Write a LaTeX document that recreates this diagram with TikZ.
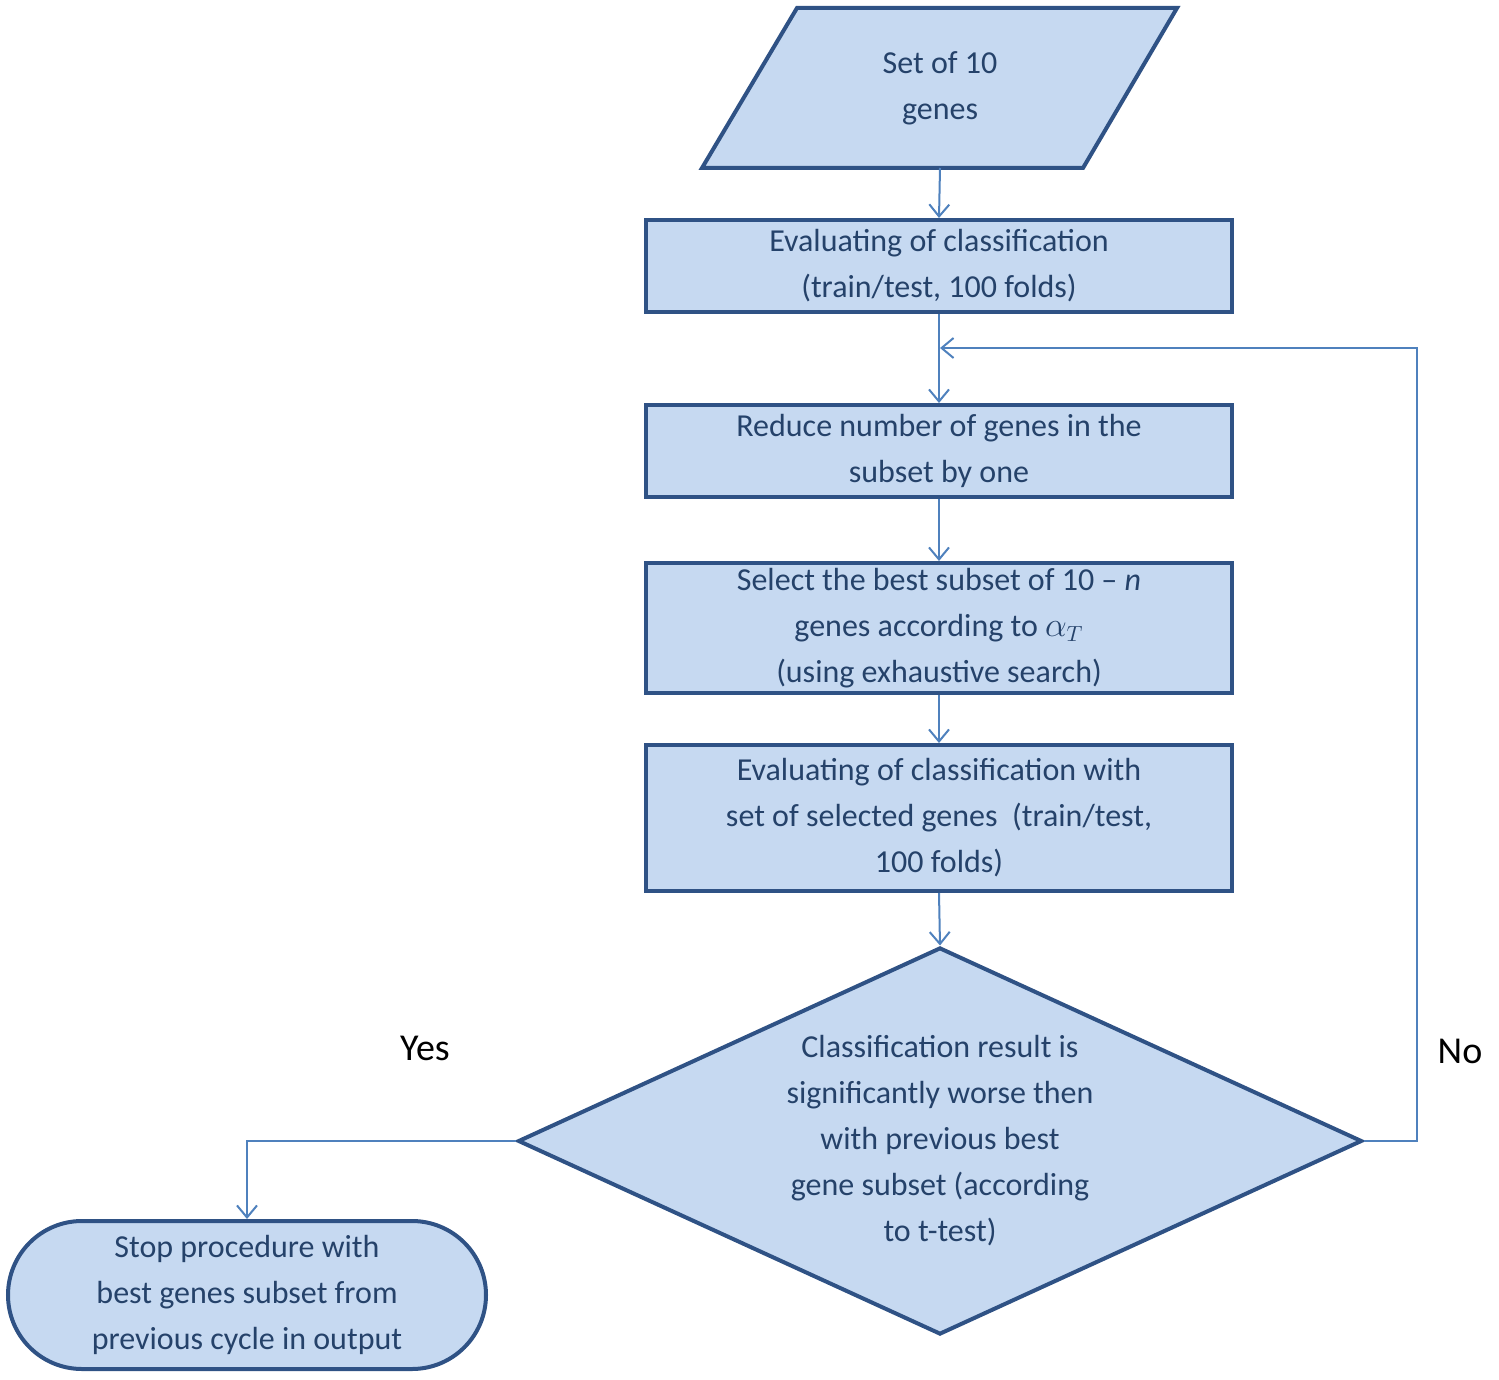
\documentclass[tikz,border=0pt]{standalone}
\usepackage{fontspec}
\setmainfont{Carlito}
\usetikzlibrary{shapes.geometric,arrows.meta}
\definecolor{fillc}{HTML}{C6D9F1}
\definecolor{edgec}{HTML}{2F5285}
\definecolor{linec}{HTML}{4F81BD}
\begin{document}
\begin{tikzpicture}[x=0.5pt,y=-0.5pt,
  box/.style={draw=edgec,line width=2pt,fill=fillc,minimum width=293pt,inner sep=0pt,align=center,text=edgec!80!black,font=\fontsize{16}{23}\selectfont},
  txt/.style={align=center,text=edgec!80!black,font=\fontsize{16}{23}\selectfont},
  conn/.style={draw=linec,line width=1pt,-{Straight Barb[length=6pt,width=10pt]}},
  lab/.style={font=\fontsize{19}{23}\selectfont}]
\useasboundingbox (0,0) rectangle (1499,1380);
% parallelogram
\draw[draw=edgec,line width=2pt,fill=fillc] (797,8) -- (1177,8) -- (1083,168) -- (702,168) -- cycle;
\node[txt] (start) at (940,88) {Set of 10\\genes};
\coordinate (startb) at (940,168);
\node[box,minimum height=46pt] (b1) at (939,266) {Evaluating of classification\\(train/test, 100 folds)};
\node[box,minimum height=46pt] (b2) at (939,451) {Reduce number of genes in the\\subset by one};
\node[box,minimum height=65pt] (b3) at (939,628) {Select the best subset of 10 -- \textit{n}\\genes according to $\alpha_T$\\(using exhaustive search)};
\node[box,minimum height=73pt] (b4) at (939,818) {Evaluating of classification with\\set of selected genes\ \ (train/test,\\100 folds)};
\node[diamond,draw=edgec,line width=2pt,fill=fillc,minimum width=422pt,minimum height=193.5pt,inner sep=0pt] (dec) at (940,1141) {};
\node[txt] at (940,1141) {Classification result is\\significantly worse then\\with previous best\\gene subset (according\\to t-test)};
\node[box,rounded corners=37pt,minimum width=239pt,minimum height=74pt] (stop) at (247,1295) {Stop procedure with\\best genes subset from\\previous cycle in output};
\coordinate (loop) at (940,348);
\draw[conn] (startb) -- (b1.north);
\draw[conn] (b1.south) -- (b2.north);
\draw[conn] (b2.south) -- (b3.north);
\draw[conn] (b3.south) -- (b4.north);
\draw[conn] (b4.south) -- (dec.north);
\draw[conn] (dec.east) -- (1417,1141) -- (1417,348) -- (loop);
\draw[conn] (dec.west) -- (247,1141) -- (stop.north);
\node[lab] at (425,1048) {Yes};
\node[lab] at (1460,1051) {No};
\end{tikzpicture}
\end{document}
